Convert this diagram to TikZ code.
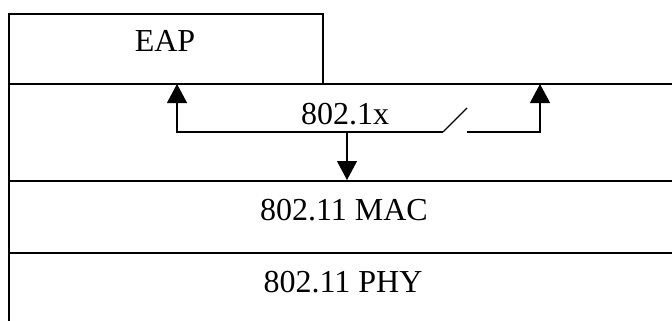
\documentclass[tikz,border=0pt]{standalone}
\usepackage{fontspec}
\setmainfont{Liberation Serif}
\usetikzlibrary{arrows.meta, positioning}

\begin{document}
\begin{tikzpicture}[x=1pt, y=-1pt,
    layerbox/.style={draw, line width=1.6pt, inner sep=0pt, anchor=north west},
    layertext/.style={anchor=base, inner sep=0pt, font=\fontsize{32}{38}\selectfont},
    flow/.style={line width=1.2pt, -{Triangle[width=20pt, length=19pt]}}]
\useasboundingbox (0,0) rectangle (672,321);
\clip (0,0) rectangle (672,321);

% The layers
\node [layerbox, minimum width=314pt, minimum height=70pt] (eap) at (8,13) {};
\node [layerbox, minimum width=690pt, minimum height=97pt] (dotx) at (8,83) {};
\node [layerbox, minimum width=690pt, minimum height=72pt] (mac) at (8,180) {};
\node [layerbox, minimum width=690pt, minimum height=100pt] (phy) at (8,252) {};

% Layer names
\node [layertext] (eaptext) at (165,52) {EAP};
\node [layertext] (dotxtext) at (345,124) {802.1x};
\node [layertext] (mactext) at (344,220) {802.11 MAC};
\node [layertext] (phytext) at (343,292) {802.11 PHY};

% The port with its switch
\coordinate (upl) at (177,84);
\coordinate (upr) at (540,84);
\coordinate (junc) at (347,132);
\coordinate (swa) at (443,132);
\coordinate (swb) at (467,108);
\coordinate (swc) at (467,132);

\draw [flow] (swa) -- (junc) -| (upl);
\draw [flow] (junc) -- (junc |- mac.north);
\draw [line width=1.2pt] (swa) -- (swb);
\draw [flow] (swc) -| (upr);

\end{tikzpicture}
\end{document}
